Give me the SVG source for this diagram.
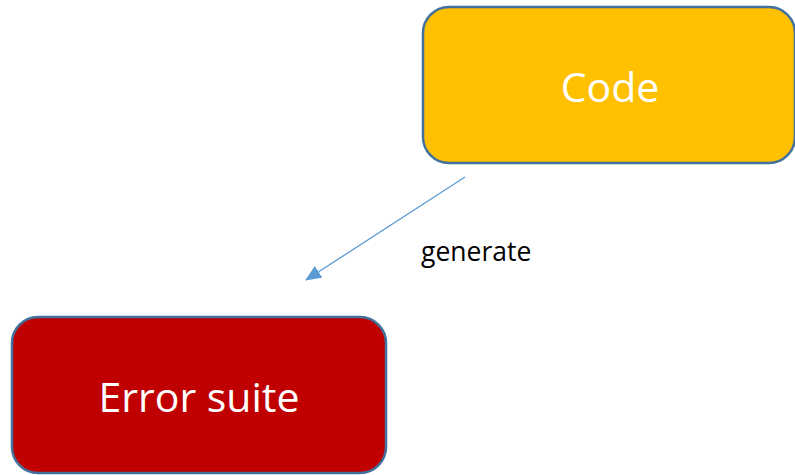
<svg xmlns="http://www.w3.org/2000/svg" width="795" height="475" viewBox="0 0 795 475">
  <style>
    .box { stroke: #41719c; stroke-width: 2.5; }
    .label { font-family: "Open Sans", "Liberation Sans", sans-serif; fill: #ffffff; text-anchor: middle; }
    .edge { stroke: #5b9bd5; stroke-width: 1.3; fill: none; }
    .edge-label { font-family: "Open Sans", "Liberation Sans", sans-serif; fill: #000000; font-size: 26.5px; }
  </style>
  <defs>
    <marker id="arrow" markerWidth="16" markerHeight="14" refX="15" refY="7" orient="auto" markerUnits="userSpaceOnUse" viewBox="0 0 16 14">
      <path d="M0,0 L16,7 L0,14 z" fill="#5b9bd5"/>
    </marker>
  </defs>
  <rect width="795" height="475" fill="#ffffff"/>

  <g id="code">
    <rect class="box" x="423" y="7" width="372" height="156" rx="26" fill="#ffc000"/>
    <text class="label" x="610" y="102" font-size="41">Code</text>
  </g>

  <g id="error-suite">
    <rect class="box" x="12" y="317" width="374" height="156" rx="26" fill="#c00000"/>
    <text class="label" x="199" y="412" font-size="41">Error suite</text>
  </g>

  <g id="connectors">
    <line class="edge" x1="465" y1="177" x2="306" y2="280" marker-end="url(#arrow)"/>
    <text class="edge-label" x="421" y="261">generate</text>
  </g>
</svg>
